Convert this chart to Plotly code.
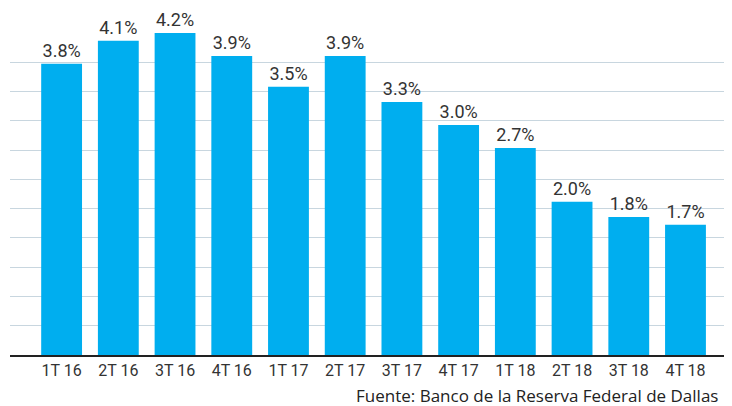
import plotly.graph_objects as go

categories = ["1T 16", "2T 16", "3T 16", "4T 16", "1T 17", "2T 17", "3T 17", "4T 17",
              "1T 18", "2T 18", "3T 18", "4T 18"]
values = [3.8, 4.1, 4.2, 3.9, 3.5, 3.9, 3.3, 3.0, 2.7, 2.0, 1.8, 1.7]
labels = [f"{v:.1f}%" for v in values]
source = "Fuente: Banco de la Reserva Federal de Dallas"

ymax = 4.2
grid_vals = [ymax * k / 11 for k in range(1, 12)]

fig = go.Figure(go.Bar(
    x=categories, y=values, text=labels, textposition="outside",
    marker_color="#00AEEF", marker_line_width=0,
    textfont=dict(family="Roboto", size=18, color="#333333"),
    cliponaxis=False,
))

# page body has an 8px default margin; figure sized to fill the rest of the window
fig.update_layout(
    width=724, height=398,
    margin=dict(l=2, r=0, t=25, b=51),
    paper_bgcolor="white", plot_bgcolor="white",
    bargap=0.28,
    showlegend=False,
    font=dict(family="Roboto", color="#333333"),
    xaxis=dict(range=[-0.91, 11.82], showline=True, linecolor="#222222", linewidth=2,
               ticks="", tickfont=dict(family="Roboto", size=16, color="#333333"),
               showgrid=False),
    yaxis=dict(range=[0, ymax], tickvals=grid_vals, showticklabels=False,
               showgrid=True, gridcolor="#c8d6df", gridwidth=1, zeroline=False),
    annotations=[dict(text=source, xref="paper", yref="paper", x=0.476, y=-0.127,
                      xanchor="left", yanchor="middle", showarrow=False,
                      font=dict(family="Open Sans", size=17, color="#222222"))],
)

fig.write_html("out.html")
